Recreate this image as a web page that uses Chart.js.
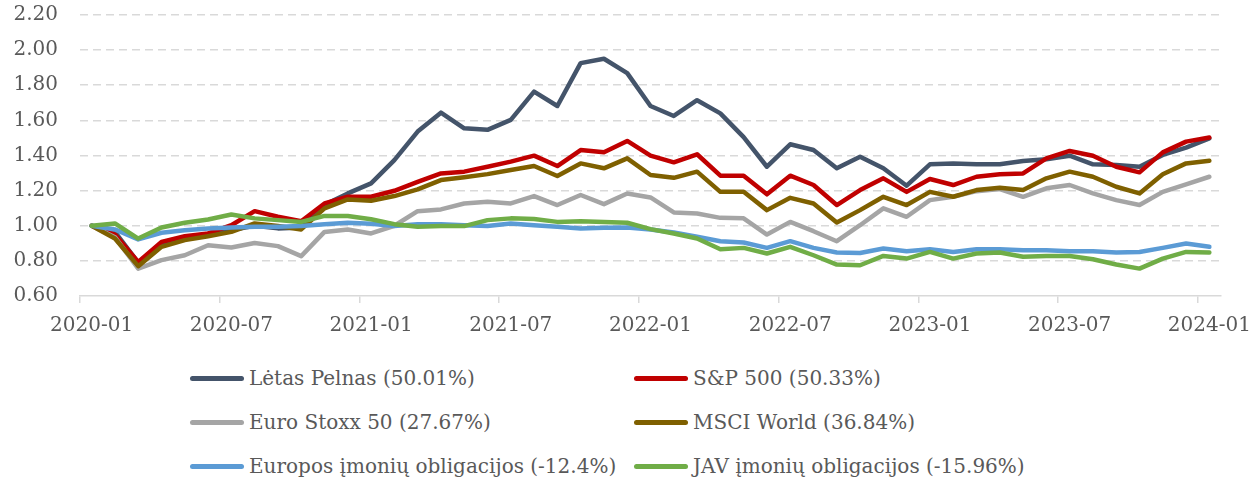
<!DOCTYPE html>
<html>
<head>
<meta charset="utf-8">
<script src="https://cdn.jsdelivr.net/npm/chart.js@4.4.1/dist/chart.umd.min.js"></script>
<style>
  html, body { margin: 0; padding: 0; background: #ffffff; width: 1253px; height: 482px; overflow: hidden; }
  #wrap { position: relative; width: 1253px; height: 482px; }
  #c { position: absolute; left: 0; top: 0; }
  .lg { position: absolute; height: 30px; display: flex; align-items: center; font-family: "DejaVu Serif", serif; font-size: 20px; color: #595959; white-space: nowrap; }
  .lg .sw { display: inline-block; width: 54px; height: 5px; border-radius: 3px; margin-right: 5px; }
</style>
</head>
<body>
<div id="wrap">
  <canvas id="c" width="1253" height="346"></canvas>
  <div id="legend"></div>
</div>
<script>
const categories = [
  "2020-01","2020-02","2020-03","2020-04","2020-05","2020-06","2020-07","2020-08","2020-09","2020-10","2020-11","2020-12",
  "2021-01","2021-02","2021-03","2021-04","2021-05","2021-06","2021-07","2021-08","2021-09","2021-10","2021-11","2021-12",
  "2022-01","2022-02","2022-03","2022-04","2022-05","2022-06","2022-07","2022-08","2022-09","2022-10","2022-11","2022-12",
  "2023-01","2023-02","2023-03","2023-04","2023-05","2023-06","2023-07","2023-08","2023-09","2023-10","2023-11","2023-12",
  "2024-01"
];

const seriesNames = [
  "Lėtas Pelnas (50.01%)",
  "S&P 500 (50.33%)",
  "Euro Stoxx 50 (27.67%)",
  "MSCI World (36.84%)",
  "Europos įmonių obligacijos (-12.4%)",
  "JAV įmonių obligacijos (-15.96%)"
];

const letasPelnas = [
  1.00, 0.965, 0.79, 0.90, 0.93, 0.95, 0.975, 1.00, 0.985, 0.99, 1.12, 1.184,
  1.241, 1.374, 1.536, 1.644, 1.555, 1.546, 1.603, 1.764, 1.682, 1.926, 1.951, 1.869,
  1.682, 1.625, 1.715, 1.64, 1.505, 1.336, 1.464, 1.431, 1.327, 1.393, 1.327, 1.228,
  1.35, 1.355, 1.35, 1.35, 1.369, 1.378, 1.399, 1.35, 1.346, 1.336, 1.403, 1.445,
  1.498
];
const sp500 = [
  1.00, 0.95, 0.794, 0.908, 0.94, 0.956, 1.003, 1.083, 1.051, 1.026, 1.127, 1.165,
  1.165, 1.199, 1.25, 1.298, 1.308, 1.336, 1.365, 1.399, 1.34, 1.431, 1.418, 1.483,
  1.399, 1.361, 1.407, 1.285, 1.285, 1.179, 1.285, 1.232, 1.118, 1.203, 1.27, 1.193,
  1.266, 1.232, 1.279, 1.293, 1.298, 1.384, 1.426, 1.399, 1.336, 1.304, 1.418, 1.479,
  1.502
];
const euroStoxx50 = [
  1.00, 0.935, 0.756, 0.804, 0.832, 0.889, 0.876, 0.902, 0.884, 0.827, 0.965, 0.979,
  0.956, 1.00, 1.083, 1.093, 1.127, 1.136, 1.127, 1.169, 1.118, 1.175, 1.123, 1.184,
  1.161, 1.076, 1.07, 1.045, 1.042, 0.95, 1.022, 0.969, 0.912, 1.003, 1.099, 1.051,
  1.146, 1.165, 1.197, 1.209, 1.165, 1.213, 1.232, 1.184, 1.146, 1.118, 1.193, 1.236,
  1.279
];
const msciWorld = [
  1.00, 0.927, 0.77, 0.88, 0.918, 0.94, 0.965, 1.013, 0.998, 0.979, 1.099, 1.15,
  1.142, 1.169, 1.207, 1.26, 1.276, 1.294, 1.317, 1.34, 1.283, 1.355, 1.327, 1.384,
  1.289, 1.273, 1.308, 1.193, 1.193, 1.089, 1.159, 1.127, 1.019, 1.089, 1.165, 1.118,
  1.193, 1.165, 1.203, 1.216, 1.203, 1.27, 1.308, 1.279, 1.222, 1.184, 1.293, 1.355,
  1.37
];
const europosObligacijos = [
  1.00, 0.979, 0.922, 0.96, 0.975, 0.985, 0.99, 0.994, 0.994, 0.998, 1.009, 1.017,
  1.012, 0.998, 1.009, 1.009, 1.003, 0.998, 1.013, 1.003, 0.994, 0.985, 0.988, 0.99,
  0.979, 0.962, 0.937, 0.912, 0.905, 0.874, 0.912, 0.874, 0.848, 0.845, 0.87, 0.855,
  0.866, 0.851, 0.866, 0.866, 0.861, 0.861, 0.855, 0.855, 0.848, 0.851, 0.874, 0.899,
  0.88
];
const javObligacijos = [
  1.00, 1.013, 0.927, 0.99, 1.017, 1.036, 1.064, 1.042, 1.032, 1.022, 1.056, 1.056,
  1.037, 1.009, 0.994, 0.998, 0.998, 1.032, 1.042, 1.038, 1.022, 1.026, 1.022, 1.017,
  0.981, 0.956, 0.927, 0.866, 0.874, 0.842, 0.88, 0.832, 0.779, 0.775, 0.828, 0.813,
  0.851, 0.813, 0.842, 0.848, 0.823, 0.828, 0.828, 0.809, 0.779, 0.756, 0.813, 0.851,
  0.848
];

const yTickMin = 0.6, yTickMax = 2.2, yTickStep = 0.2;
const labelEvery = 6;

const seriesValues = [letasPelnas, sp500, euroStoxx50, msciWorld, europosObligacijos, javObligacijos];
const seriesColors = ["#44546A", "#C00000", "#A5A5A5", "#7F6000", "#5B9BD5", "#70AD47"];

const FONT = "'DejaVu Serif', serif";

const datasets = seriesValues.map((vals, i) => ({
  label: seriesNames[i],
  data: vals,
  borderColor: seriesColors[i],
  backgroundColor: seriesColors[i],
  borderWidth: 4.5,
  pointRadius: 0,
  pointHoverRadius: 0,
  tension: 0,
  fill: false,
  borderJoinStyle: 'round',
  borderCapStyle: 'round',
  order: seriesValues.length - i
}));

new Chart(document.getElementById('c'), {
  type: 'line',
  data: { labels: categories, datasets },
  options: {
    responsive: false,
    animation: false,
    devicePixelRatio: 1,
    layout: { padding: { left: 0, right: 32, top: 15, bottom: 0 } },
    plugins: { legend: { display: false }, tooltip: { enabled: false } },
    scales: {
      x: {
        type: 'category',
        offset: true,
        afterFit: (s) => { s.height = 50; s.paddingLeft = 0; s.paddingRight = 0; },
        grid: {
          offset: true,
          drawOnChartArea: false,
          drawTicks: true,
          tickLength: 7,
          lineWidth: 1.5,
          color: (ctx) => (ctx.index % labelEvery === 0 && ctx.index < categories.length) ? '#D9D9D9' : 'rgba(0,0,0,0)'
        },
        border: { display: true, color: '#D9D9D9', width: 1.5 },
        ticks: {
          autoSkip: false,
          maxRotation: 0,
          minRotation: 0,
          padding: 11,
          color: '#595959',
          font: { family: FONT, size: 20 },
          callback: (v, i) => (i % labelEvery === 0 ? categories[i] : '')
        }
      },
      y: {
        min: yTickMin,
        max: yTickMax,
        afterFit: (s) => { s.width = 80; s.paddingTop = 0; s.paddingBottom = 0; },
        grid: {
          drawTicks: false,
          lineWidth: 1.5,
          color: (ctx) => (ctx.tick && Math.abs(ctx.tick.value - yTickMin) < 1e-6) ? 'rgba(0,0,0,0)' : '#D9D9D9'
        },
        border: { display: false, dash: [8, 5] },
        ticks: {
          stepSize: yTickStep,
          padding: 22,
          color: '#595959',
          font: { family: FONT, size: 20 },
          callback: (v) => Number(v).toFixed(2)
        }
      }
    }
  }
});

// HTML legend (2 columns x 3 rows)
const legendCols = [190, 634];
const legendRows = [378, 422, 466];
const legendEl = document.getElementById('legend');
seriesNames.forEach((name, i) => {
  const d = document.createElement('div');
  d.className = 'lg';
  d.style.left = legendCols[i % 2] + 'px';
  d.style.top = (legendRows[Math.floor(i / 2)] - 15) + 'px';
  const sw = document.createElement('span');
  sw.className = 'sw';
  sw.style.background = seriesColors[i];
  const t = document.createElement('span');
  t.textContent = name;
  d.appendChild(sw);
  d.appendChild(t);
  legendEl.appendChild(d);
});
</script>
</body>
</html>
